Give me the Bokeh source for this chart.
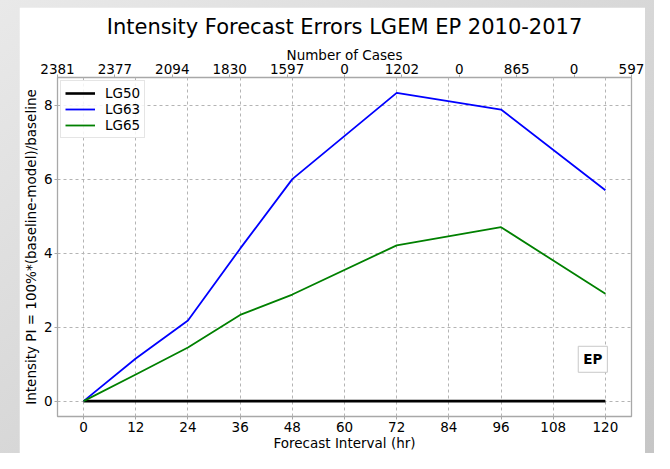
from bokeh.plotting import figure
from bokeh.models import Range1d, LinearAxis, FixedTicker, Legend, LegendItem, Label
from bokeh.layouts import column
from bokeh.embed import file_html
from bokeh.resources import INLINE

# ---- data ----
hours = [0, 12, 24, 36, 48, 60, 72, 84, 96, 108, 120]
num_cases = ["2381", "2377", "2094", "1830", "1597", "0", "1202", "0", "865", "0", "597"]

lg50_hours = [0, 12, 24, 36, 48, 72, 96, 120]
lg50_vals = [0, 0, 0, 0, 0, 0, 0, 0]

lg63_hours = [0, 12, 24, 36, 48, 72, 96, 120]
lg63_vals = [0.0, 1.15, 2.18, 4.12, 6.0, 8.33, 7.88, 5.70]

lg65_hours = [0, 12, 24, 36, 48, 72, 96, 120]
lg65_vals = [0.0, 0.72, 1.45, 2.33, 2.88, 4.21, 4.70, 2.90]

y_ticks = [0, 2, 4, 6, 8]
title_text = "Intensity Forecast Errors LGEM EP 2010-2017"
basin = "EP"

FONT = "DejaVu Sans"

xmin, xmax = min(hours), max(hours)
xpad = 0.05 * (xmax - xmin)
all_y = lg50_vals + lg63_vals + lg65_vals
ymin, ymax = min(all_y), max(all_y)
ypad = 0.05 * (ymax - ymin)

p = figure(width=626, height=446, output_backend="svg", toolbar_location=None,
           x_range=Range1d(xmin - xpad, xmax + xpad),
           y_range=Range1d(ymin - ypad, ymax + ypad),
           min_border_left=32, min_border_right=14, min_border_top=69, min_border_bottom=37,
           background_fill_color="white", border_fill_color="white",
           outline_line_color="#a8a8a8", outline_line_width=1.3)

p.title.text = title_text
p.title.align = "center"
p.title.text_font = FONT
p.title.text_font_size = "21px"
p.title.text_font_style = "normal"
p.title.text_color = "black"

p.extra_x_ranges = {"top": Range1d(xmin, xmax)}

def style_axis(ax):
    ax.axis_line_color = None
    ax.major_tick_line_color = "#a8a8a8"
    ax.major_tick_out = 3
    ax.major_tick_in = 0
    ax.minor_tick_line_color = None
    ax.major_label_text_font = FONT
    ax.major_label_text_font_size = "13.5px"
    ax.major_label_text_color = "black"
    ax.axis_label_text_font = FONT
    ax.axis_label_text_font_size = "13.5px"
    ax.axis_label_text_font_style = "normal"
    ax.axis_label_text_color = "black"

xa = p.xaxis[0]
xa.ticker = FixedTicker(ticks=hours)
xa.axis_label = "Forecast Interval (hr)"
style_axis(xa)
xa.major_label_standoff = 2
xa.axis_label_standoff = 0

ya = p.yaxis[0]
ya.ticker = FixedTicker(ticks=y_ticks)
ya.axis_label = "Intensity PI = 100%*(baseline-model)/baseline"
style_axis(ya)
ya.major_label_standoff = 2
ya.axis_label_standoff = 2

top = LinearAxis(x_range_name="top", ticker=FixedTicker(ticks=hours),
                 major_label_overrides={h: c for h, c in zip(hours, num_cases)},
                 axis_label="Number of Cases")
style_axis(top)
top.major_label_standoff = 1
top.axis_label_standoff = -2
p.add_layout(top, "above")

for g in (p.xgrid, p.ygrid):
    g.grid_line_color = "#b4b4b4"
    g.grid_line_dash = "3 3"
    g.grid_line_width = 1

r50 = p.line(lg50_hours, lg50_vals, line_color="black", line_width=2.6)
r63 = p.line(lg63_hours, lg63_vals, line_color="#0000ff", line_width=1.8)
r65 = p.line(lg65_hours, lg65_vals, line_color="#008000", line_width=1.8)

legend = Legend(items=[LegendItem(label="LG50", renderers=[r50]),
                       LegendItem(label="LG63", renderers=[r63]),
                       LegendItem(label="LG65", renderers=[r65])],
                location="top_left")
legend.label_text_font = FONT
legend.label_text_font_size = "13.5px"
legend.label_text_color = "black"
legend.label_text_line_height = 0.9
legend.glyph_width = 30
legend.glyph_height = 12
legend.label_height = 12
legend.spacing = 0
legend.padding = 4
legend.margin = 3
legend.label_standoff = 10
legend.border_line_color = "#cccccc"
legend.background_fill_alpha = 0.85
p.add_layout(legend)

ep = Label(x=117.1, y=1.13, text=basin, text_align="center", text_baseline="middle",
           text_font=FONT, text_font_size="13.5px", text_font_style="bold", text_color="black",
           border_line_color="#c8c8c8", background_fill_color="white", padding=5)
p.add_layout(ep)

layout = column(p, styles={"background": "linear-gradient(to bottom right, #e9e9e9, #c6c6c6)",
                           "padding": "7px 9px 0px 19px"})

open("out.html", "w").write(file_html(layout, INLINE))
